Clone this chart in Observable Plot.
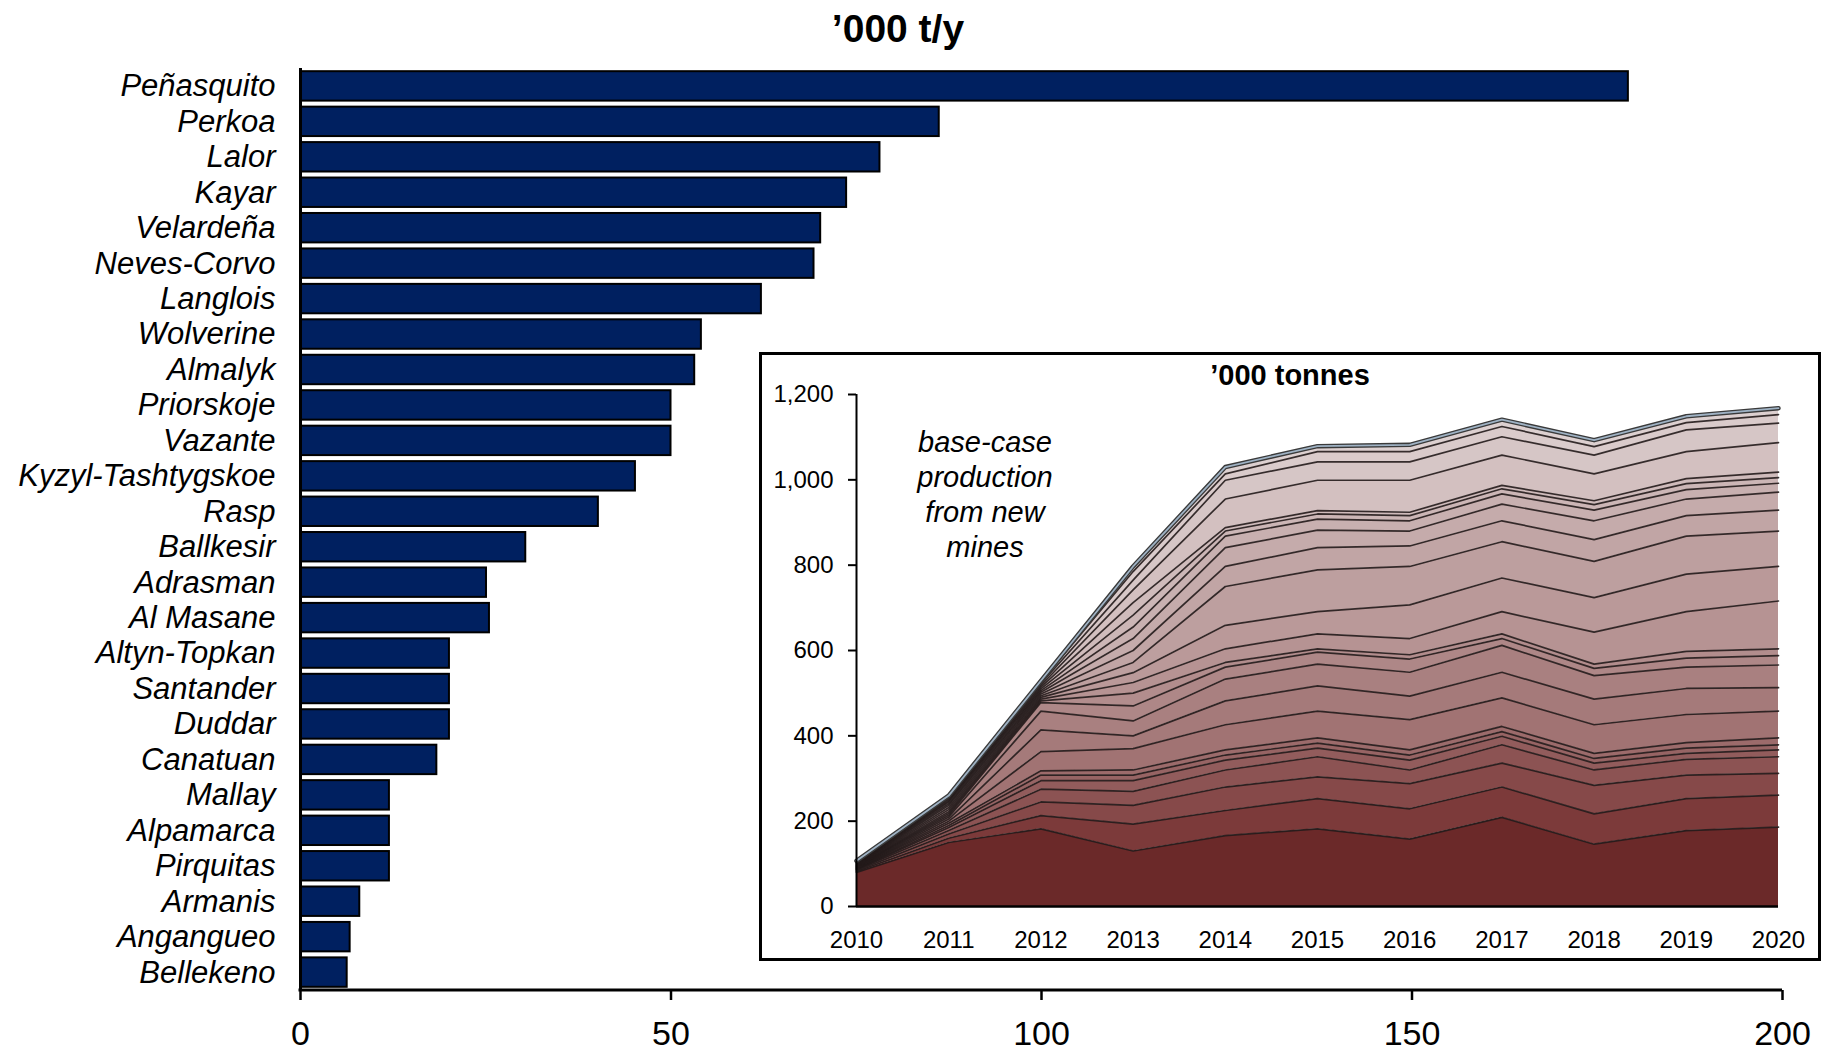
<!DOCTYPE html>
<html>
<head>
<meta charset="utf-8">
<script src="https://cdn.jsdelivr.net/npm/d3@7"></script>
<script src="https://cdn.jsdelivr.net/npm/@observablehq/plot@0.6"></script>
<style>
  html, body { margin: 0; padding: 0; background: #fff; overflow: hidden; }
  #wrap { position: relative; width: 1826px; height: 1052px; font-family: "Liberation Sans", Arial, sans-serif; color: #000; }
  #main { position: absolute; left: 0; top: 0; }
  #title { position: absolute; left: 0; top: 9px; width: 1796px; text-align: center; font-weight: bold; font-size: 39px; line-height: 39px; }
  #inset { position: absolute; left: 759px; top: 352px; width: 1062px; height: 609px; border: 3px solid #000; box-sizing: border-box; background: #fff; }
  #insetTitle { position: absolute; left: 0; top: 6px; width: 100%; text-align: center; font-weight: bold; font-size: 29px; line-height: 29px; }
  #note { position: absolute; left: 103px; top: 70px; width: 240px; text-align: center; font-style: italic; font-size: 29px; line-height: 35px; }
  #insetPlot { position: absolute; left: 0; top: 0; }
</style>
</head>
<body>
<div id="wrap">
  <div id="main"></div>
  <div id="title">’000 t/y</div>
  <div id="inset">
    <div id="insetPlot"></div>
    <div id="insetTitle">’000 tonnes</div>
    <div id="note">base-case<br>production<br>from new<br>mines</div>
  </div>
</div>
<script>
// ---------- main bar chart data ('000 t/y) ----------
const mines = ["Peñasquito","Perkoa","Lalor","Kayar","Velardeña","Neves-Corvo","Langlois","Wolverine","Almalyk","Priorskoje","Vazante","Kyzyl-Tashtygskoe","Rasp","Ballkesir","Adrasman","Al Masane","Altyn-Topkan","Santander","Duddar","Canatuan","Mallay","Alpamarca","Pirquitas","Armanis","Angangueo","Bellekeno"];
const capacity = [179.2, 86.2, 78.2, 73.7, 70.2, 69.3, 62.2, 54.1, 53.2, 50.0, 50.0, 45.2, 40.2, 30.4, 25.1, 25.5, 20.1, 20.1, 20.1, 18.4, 12.0, 12.0, 12.0, 8.0, 6.7, 6.3];
const xTicks = [0, 50, 100, 150, 200];

// ---------- inset stacked area data ('000 tonnes) ----------
// cumulative layer tops (bottom -> top), one array per year
const years = [2010, 2011, 2012, 2013, 2014, 2015, 2016, 2017, 2018, 2019, 2020];
const tops2010 = [80, 82, 84, 86, 87, 88, 89, 90, 91, 92, 93, 94, 95, 96, 97, 98, 99, 100, 101, 102, 103, 104, 105, 107];
const tops2011 = [150, 160, 170, 178, 185, 190, 195, 200, 205, 210, 214, 218, 222, 227, 232, 237, 241, 245, 248, 251, 254, 256, 258, 260];
const tops2012 = [182, 213, 245, 275, 295, 308, 318, 363, 414, 458, 478, 482, 486, 490, 494, 498, 502, 506, 510, 514, 518, 522, 526, 529];
const tops2013 = [130, 193, 237, 270, 295, 308, 320, 370, 400, 435, 470, 500, 525, 548, 572, 600, 628, 655, 683, 712, 742, 765, 785, 797];
const tops2014 = [166, 225, 280, 320, 343, 355, 367, 426, 482, 533, 561, 572, 604, 659, 750, 797, 841, 868, 880, 888, 955, 999, 1014, 1030];
const tops2015 = [182, 253, 304, 351, 371, 383, 395, 458, 517, 568, 596, 604, 639, 691, 789, 841, 882, 908, 920, 928, 999, 1042, 1066, 1079];
const tops2016 = [158, 229, 288, 320, 343, 355, 367, 438, 493, 549, 580, 590, 628, 707, 797, 845, 880, 904, 916, 924, 999, 1042, 1066, 1082];
const tops2017 = [209, 280, 336, 379, 399, 410, 422, 489, 549, 612, 628, 639, 691, 770, 855, 904, 943, 967, 979, 987, 1058, 1101, 1125, 1141];
const tops2018 = [146, 217, 284, 320, 336, 347, 359, 426, 486, 541, 558, 568, 643, 724, 809, 860, 904, 929, 942, 951, 1014, 1058, 1078, 1093];
const tops2019 = [178, 253, 308, 345, 359, 371, 384, 450, 511, 561, 582, 598, 691, 779, 868, 916, 955, 977, 991, 1003, 1066, 1117, 1134, 1149];
const tops2020 = [186, 261, 312, 351, 367, 379, 395, 458, 513, 566, 588, 604, 716, 797, 880, 929, 971, 992, 1005, 1018, 1087, 1133, 1153, 1168];
const yTicksInset = [0, 200, 400, 600, 800, 1000, 1200];

// ---------- build tables ----------
const barTable = mines.map((m, i) => ({mine: m, value: capacity[i]}));

const topsByYear = [tops2010, tops2011, tops2012, tops2013, tops2014, tops2015, tops2016, tops2017, tops2018, tops2019, tops2020];
const nLayers = tops2010.length;
const layerIds = d3.range(nLayers).map(k => "L" + k);
const stackTable = [];
for (let k = 0; k < nLayers; k++) {
  years.forEach((yr, i) => {
    const t = topsByYear[i];
    stackTable.push({layer: layerIds[k], year: yr, value: t[k] - (k > 0 ? t[k - 1] : 0)});
  });
}
const totals = years.map((yr, i) => ({year: yr, total: topsByYear[i][nLayers - 1]}));
const layerColors = layerIds.map((_, k) => k === 0 ? "#6b2929" : d3.interpolateRgb("#7c3a3a", "#ddd0d0")(Math.pow((k - 1) / (nLayers - 2), 0.75)));

const font = '"Liberation Sans", Arial, sans-serif';

// ---------- main chart ----------
const bottomAxisLine = (index, scales, values, dims) => {
  const yb = dims.height - dims.marginBottom;
  return d3.create("svg:line")
    .attr("x1", scales.x(xTicks[0]) - 1.5).attr("x2", scales.x(xTicks[xTicks.length - 1]))
    .attr("y1", yb).attr("y2", yb)
    .attr("stroke", "#000").attr("stroke-width", 3).node();
};

const main = Plot.plot({
  width: 1826, height: 1052,
  marginLeft: 300, marginRight: 44, marginTop: 68, marginBottom: 62,
  style: {fontFamily: font, background: "transparent", overflow: "visible", color: "#000"},
  x: {domain: [0, 200]},
  y: {domain: mines, paddingInner: 0.17, paddingOuter: 0.09, round: false},
  marks: [
    Plot.barX(barTable, {x: "value", y: "mine", fill: "#002060", stroke: "#000", strokeWidth: 2}),
    Plot.ruleX([0], {stroke: "#000", strokeWidth: 3}),
    bottomAxisLine,
    Plot.axisX({ticks: xTicks, tickSize: 10, tickPadding: 20, fontSize: 34, strokeWidth: 2.5, label: null}),
    Plot.axisY({tickSize: 0, tickPadding: 25, fontSize: 31, fontStyle: "italic", label: null})
  ]
});
document.getElementById("main").appendChild(main);

// ---------- inset chart ----------
const inset = Plot.plot({
  width: 1056, height: 603,
  marginLeft: 94, marginRight: 40, marginTop: 39, marginBottom: 52,
  style: {fontFamily: font, background: "transparent", overflow: "visible", color: "#000"},
  x: {domain: [years[0], years[years.length - 1]]},
  y: {domain: [0, 1200]},
  color: {domain: layerIds, range: layerColors},
  marks: [
    Plot.areaY(stackTable, {x: "year", y: "value", z: "layer", fill: "layer", order: null}),
    Plot.lineY(stackTable, Plot.stackY2({x: "year", y: "value", z: "layer", order: null, stroke: "#231b1b", strokeWidth: 1.7, strokeOpacity: 0.9, strokeLinejoin: "round"})),
    Plot.lineY(totals, {x: "year", y: "total", stroke: "#3a3a3a", strokeWidth: 4.5, strokeLinejoin: "round"}),
    Plot.lineY(totals, {x: "year", y: "total", stroke: "#9fb2c4", strokeWidth: 1.8, strokeLinejoin: "round"}),
    Plot.ruleY([0], {stroke: "#000", strokeWidth: 2.5}),
    Plot.ruleX([years[0]], {stroke: "#000", strokeWidth: 2}),
    Plot.axisX({ticks: years, tickFormat: d => String(d), tickSize: 0, tickPadding: 24, fontSize: 24, label: null}),
    Plot.axisY({ticks: yTicksInset, tickFormat: d3.format(","), tickSize: 8, tickPadding: 15, fontSize: 24, strokeWidth: 2, label: null})
  ]
});
document.getElementById("insetPlot").appendChild(inset);
</script>
</body>
</html>
